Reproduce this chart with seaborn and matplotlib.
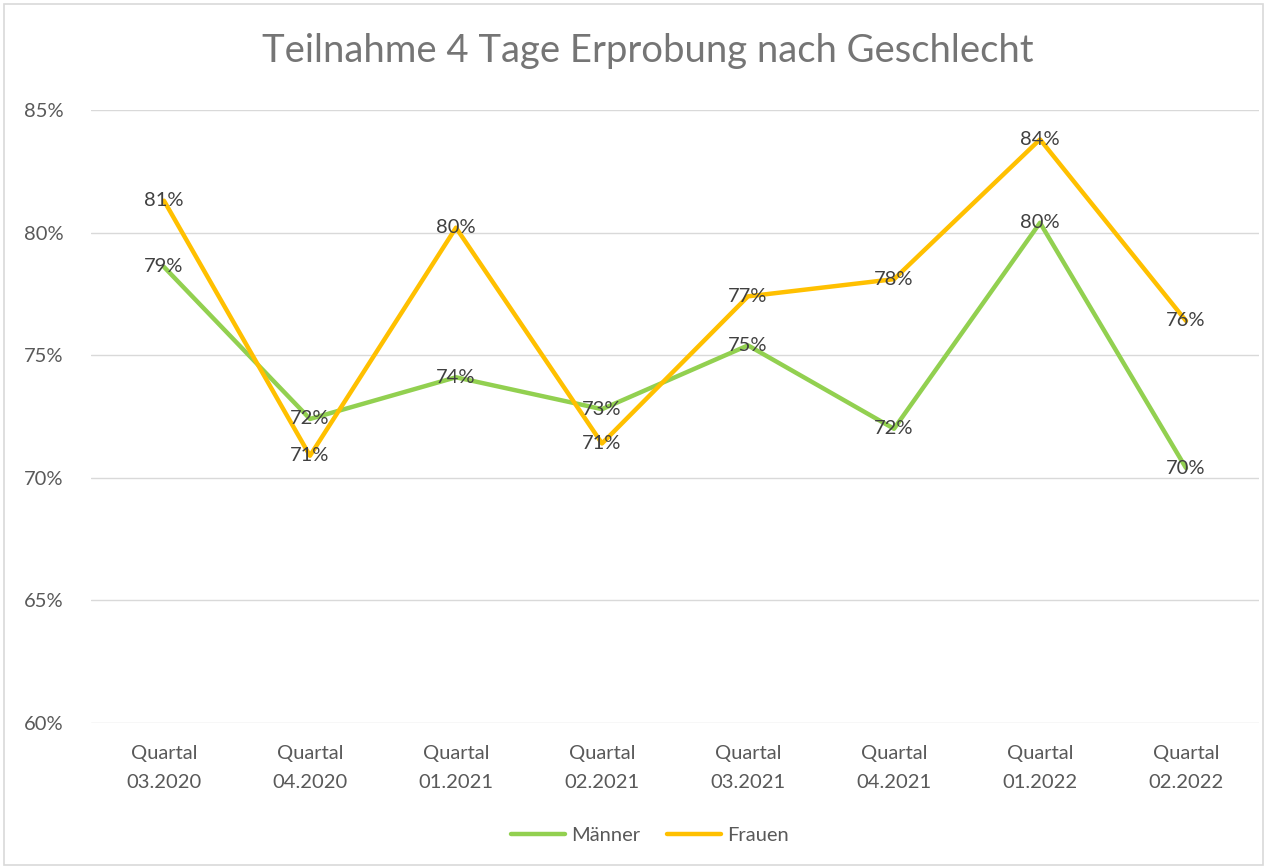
import pandas as pd
import matplotlib
matplotlib.use("Agg")
import matplotlib.pyplot as plt
import seaborn as sns

# Werte (in %)
quartale = ["Quartal\n03.2020", "Quartal\n04.2020", "Quartal\n01.2021", "Quartal\n02.2021",
            "Quartal\n03.2021", "Quartal\n04.2021", "Quartal\n01.2022", "Quartal\n02.2022"]
maenner = [78.6, 72.4, 74.1, 72.8, 75.4, 72.0, 80.4, 70.4]
frauen = [81.3, 70.9, 80.2, 71.4, 77.4, 78.1, 83.8, 76.4]

df = pd.DataFrame({
    "Quartal": quartale * 2,
    "Wert": maenner + frauen,
    "Gruppe": ["Männer"] * len(quartale) + ["Frauen"] * len(quartale),
})
df["pos"] = list(range(len(quartale))) * 2

farben = {"Männer": "#92D050", "Frauen": "#FFC000"}

sns.set_theme(style="white")
plt.rcParams["font.family"] = ["Lato", "DejaVu Sans"]

fig = plt.figure(figsize=(12.67, 8.68), dpi=100)
ax = fig.add_axes([0.0718, 0.167, 0.9219, 0.7063])

sns.lineplot(data=df, x="pos", y="Wert", hue="Gruppe", palette=farben,
             linewidth=3.2, ax=ax, legend=False, sort=False)

# Datenbeschriftungen mittig auf den Punkten
for gruppe, werte in [("Männer", maenner), ("Frauen", frauen)]:
    for i, v in enumerate(werte):
        ax.text(i, v, f"{round(v):.0f}%", ha="center", va="center",
                fontsize=14.5, color="#404040")

ax.set_xlim(-0.5, len(quartale) - 0.5)
ax.set_ylim(60, 85)
ax.set_yticks([60, 65, 70, 75, 80, 85])
ax.set_yticklabels([f"{t}%" for t in [60, 65, 70, 75, 80, 85]], fontsize=14.5, color="#595959")
ax.set_xticks(range(len(quartale)))
ax.set_xticklabels(quartale, fontsize=14.5, color="#595959", linespacing=1.85)
ax.tick_params(axis="x", length=0, pad=16)
ax.tick_params(axis="y", length=0, pad=20)
ax.grid(axis="y", color="#D9D9D9", linewidth=1)
ax.set_axisbelow(True)
sns.despine(ax=ax, left=True, bottom=True, top=True, right=True)
ax.set_xlabel("")
ax.set_ylabel("")

fig.suptitle("Teilnahme 4 Tage Erprobung nach Geschlecht", x=0.511, y=0.962,
             fontsize=27.5, color="#757575")

handles = [plt.Line2D([], [], color=farben[g], linewidth=3.2, solid_capstyle="round") for g in ["Männer", "Frauen"]]
fig.legend(handles, ["Männer", "Frauen"], loc="center", bbox_to_anchor=(0.513, 0.037),
           ncol=2, frameon=False, fontsize=14.5, handlelength=2.7, handletextpad=0.3,
           columnspacing=1.3, labelcolor="#595959")

# Rahmen des Diagrammbereichs
fig.patches.append(plt.Rectangle((0.003, 0.003), 0.994, 0.992, transform=fig.transFigure,
                                 fill=False, edgecolor="#D9D9D9", linewidth=1.2))

fig.savefig("out.png", dpi=100)
